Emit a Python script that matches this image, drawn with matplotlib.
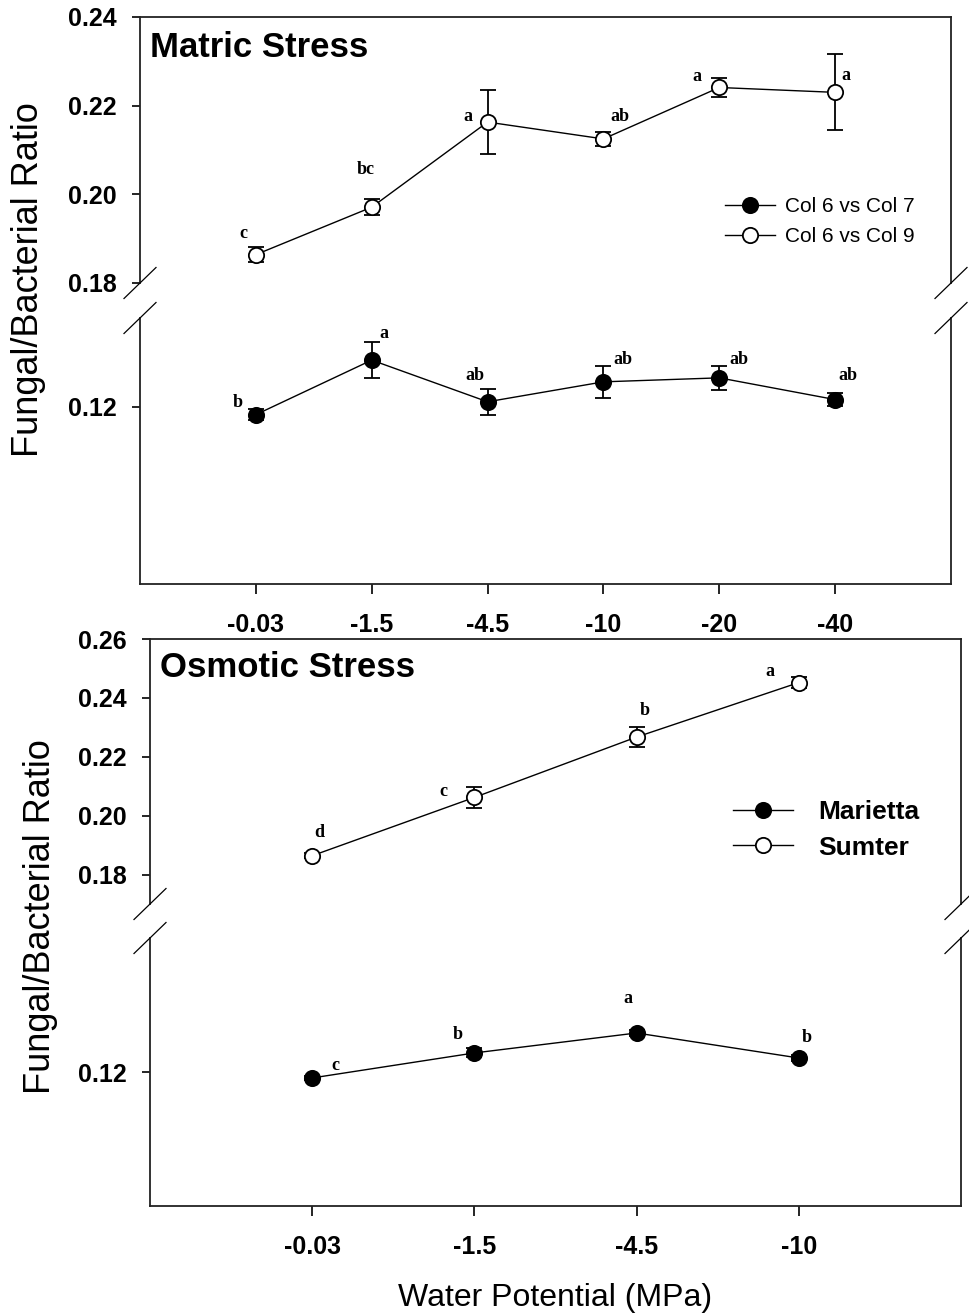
import numpy as np
import matplotlib.pyplot as plt
from matplotlib.lines import Line2D

plt.rcParams['font.family'] = ['Liberation Sans', 'DejaVu Sans']

# matric stress (top panel)
matric_levels = ['-0.03', '-1.5', '-4.5', '-10', '-20', '-40']
col7_mean = [0.1182, 0.1305, 0.1211, 0.1256, 0.1265, 0.1216]
col7_se = [0.0013, 0.0040, 0.0029, 0.0036, 0.0027, 0.0015]
col7_letters = ['b', 'a', 'ab', 'ab', 'ab', 'ab']
col9_mean = [0.1864, 0.1971, 0.2163, 0.2125, 0.2241, 0.2230]
col9_se = [0.0017, 0.0018, 0.0072, 0.0016, 0.0021, 0.0086]
col9_letters = ['c', 'bc', 'a', 'ab', 'a', 'a']

# osmotic stress (bottom panel)
osmotic_levels = ['-0.03', '-1.5', '-4.5', '-10']
marietta_mean = [0.1180, 0.1264, 0.1331, 0.1247]
marietta_se = [0.0008, 0.0015, 0.0010, 0.0010]
marietta_letters = ['c', 'b', 'a', 'b']
sumter_mean = [0.1864, 0.2062, 0.2267, 0.2452]
sumter_se = [0.0008, 0.0037, 0.0033, 0.0020]
sumter_letters = ['d', 'c', 'b', 'a']

# letter offsets (points) from each point
col7_off = [(-13, 9), (9, 19), (-9, 19), (14, 16), (14, 13), (9, 17)]
col9_off = [(-9, 15), (-4, 27), (-14, 4), (12, 16), (-16, 8), (8, 12)]
marietta_off = [(17, 9), (-12, 13), (-6, 25), (6, 15)]
sumter_off = [(5, 17), (-22, 4), (6, 19), (-21, 8)]

W, H = 969, 1316
fig = plt.figure(figsize=(W / 100, H / 100), dpi=100)


def box(l, t, r, b):
    return [l / W, 1 - b / H, (r - l) / W, (b - t) / H]


def style(ax, upper):
    for s in ax.spines.values():
        s.set_linewidth(1.3)
        s.set_color('#222222')
    ax.tick_params(axis='y', direction='out', length=6, width=1.2, pad=11,
                   labelsize=18)
    for t in ax.get_yticklabels():
        t.set_fontweight('bold')
    if upper:
        ax.spines['bottom'].set_visible(False)
        ax.tick_params(axis='x', bottom=False, labelbottom=False)
    else:
        ax.spines['top'].set_visible(False)
        ax.tick_params(axis='x', direction='out', length=7, width=1.2,
                       pad=14, labelsize=18)
        for t in ax.get_xticklabels():
            t.set_fontweight('bold')


def breaks(ax_up, ax_lo):
    pu = ax_up.get_position()
    pl = ax_lo.get_position()
    for x in (pu.x0, pu.x1):
        for y in (pu.y0, pl.y1):
            fig.add_artist(Line2D([x - 16 / W, x + 16 / W],
                                  [y - 15.5 / H, y + 15.5 / H],
                                  color='black', lw=0.9,
                                  transform=fig.transFigure))


def series(ax, x, mean, se, filled):
    ax.errorbar(x, mean, yerr=se, fmt='none', ecolor='black',
                elinewidth=1.3, capsize=5.5, capthick=1.3, zorder=2)
    ax.plot(x, mean, '-o', color='black', lw=1.0, ms=11, mew=1.3,
            mec='black', mfc='black' if filled else 'white', zorder=3)


def letters(ax, x, mean, labs, offs):
    for xi, yi, lab, off in zip(x, mean, labs, offs):
        ax.annotate(lab, (xi, yi), xytext=off, textcoords='offset points',
                    ha='center', va='center', fontsize=13,
                    fontweight='bold', family='Liberation Serif')


def panel(levels, m_low, s_low, l_low, o_low, m_up, s_up, l_up, o_up,
          rect_up, rect_lo, ylim_up, ylim_lo, yt_up):
    x = np.arange(len(levels))
    ax_up = fig.add_axes(rect_up)
    ax_lo = fig.add_axes(rect_lo)
    for ax in (ax_up, ax_lo):
        series(ax, x, m_low, s_low, True)
        series(ax, x, m_up, s_up, False)
        ax.set_xlim(-1, len(levels))
    ax_up.set_ylim(*ylim_up)
    ax_lo.set_ylim(*ylim_lo)
    ax_up.set_yticks(yt_up)
    ax_up.set_yticklabels(['%.2f' % v for v in yt_up])
    ax_lo.set_yticks([0.12])
    ax_lo.set_yticklabels(['0.12'])
    ax_lo.set_xticks(x)
    ax_lo.set_xticklabels(levels)
    style(ax_up, True)
    style(ax_lo, False)
    letters(ax_lo, x, m_low, l_low, o_low)
    letters(ax_up, x, m_up, l_up, o_up)
    breaks(ax_up, ax_lo)
    return ax_up, ax_lo


# top panel
top_up, top_lo = panel(matric_levels, col7_mean, col7_se, col7_letters, col7_off,
                       col9_mean, col9_se, col9_letters, col9_off,
                       box(140, 17, 951, 283), box(140, 318, 951, 584),
                       (0.18, 0.24), (0.08, 0.14), [0.18, 0.20, 0.22, 0.24])

# bottom panel
bot_up, bot_lo = panel(osmotic_levels, marietta_mean, marietta_se,
                       marietta_letters, marietta_off,
                       sumter_mean, sumter_se, sumter_letters, sumter_off,
                       box(150, 639, 961, 904), box(150, 938, 961, 1206),
                       (0.17, 0.26), (0.075, 0.165),
                       [0.18, 0.20, 0.22, 0.24, 0.26])


def handles():
    h1 = Line2D([], [], color='black', lw=1.0, marker='o', ms=11, mew=1.3,
                mec='black', mfc='black')
    h2 = Line2D([], [], color='black', lw=1.0, marker='o', ms=11, mew=1.3,
                mec='black', mfc='white')
    return [h1, h2]


fig.legend(handles(), ['Col 6 vs Col 7', 'Col 6 vs Col 9'], loc='upper left',
           bbox_to_anchor=(725 / W, 1 - 197 / H), frameon=False,
           borderpad=0, borderaxespad=0, numpoints=1,
           handlelength=2.4, handletextpad=0.5, labelspacing=0.53,
           prop={'size': 15})
fig.legend(handles(), ['Marietta', 'Sumter'], loc='upper left',
           bbox_to_anchor=(733 / W, 1 - 800 / H), frameon=False,
           borderpad=0, borderaxespad=0, numpoints=1,
           handlelength=2.27, handletextpad=0.95, labelspacing=0.44,
           prop={'size': 19, 'weight': 'bold'})

# titles and axis labels
fig.text(150 / W, 1 - 57 / H, 'Matric Stress', fontsize=25, fontweight='bold',
         ha='left', va='baseline')
fig.text(160 / W, 1 - 677 / H, 'Osmotic Stress', fontsize=25,
         fontweight='bold', ha='left', va='baseline')
fig.text(29 / W, 1 - 280 / H, 'Fungal/Bacterial Ratio', fontsize=26,
         rotation=90, ha='center', va='center')
fig.text(41 / W, 1 - 917 / H, 'Fungal/Bacterial Ratio', fontsize=26,
         rotation=90, ha='center', va='center')
fig.text(555 / W, 1 - 1298 / H, 'Water Potential (MPa)', fontsize=23,
         ha='center', va='center')

fig.savefig('out.png', dpi=100)
